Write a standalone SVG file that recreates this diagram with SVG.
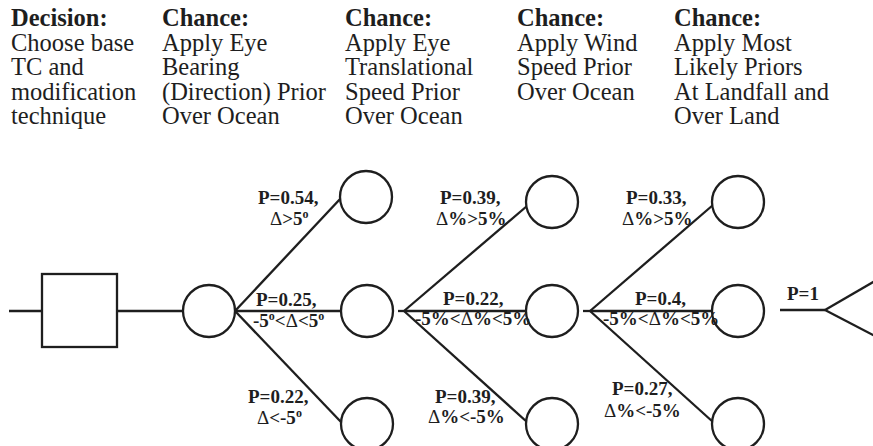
<svg xmlns="http://www.w3.org/2000/svg" width="873" height="446" viewBox="0 0 873 446">
<style>
.hd{font-family:"Liberation Serif","Times New Roman",serif;font-size:24.5px;fill:#1e1e1e}
.hb{font-weight:bold}
.lb{font-family:"Liberation Serif","Times New Roman",serif;font-size:19px;font-weight:bold;fill:#1e1e1e}
.dl{font-weight:normal}
.sup{font-size:12px}
.ln{stroke:#1e1e1e;stroke-width:2.3;fill:none}
.nd{stroke:#1e1e1e;stroke-width:2.3;fill:#fff}
</style>
<rect width="873" height="446" fill="#fff"/>
<g id="headers" class="hd">
<text x="11" y="26"><tspan class="hb">Decision:</tspan><tspan x="11" dy="24.6">Choose base</tspan><tspan x="11" dy="24.6">TC and</tspan><tspan x="11" dy="24.6">modification</tspan><tspan x="11" dy="24.6">technique</tspan></text>
<text x="162" y="26"><tspan class="hb">Chance:</tspan><tspan x="162" dy="24.6">Apply Eye</tspan><tspan x="162" dy="24.6">Bearing</tspan><tspan x="162" dy="24.6">(Direction) Prior</tspan><tspan x="162" dy="24.6">Over Ocean</tspan></text>
<text x="345" y="26"><tspan class="hb">Chance:</tspan><tspan x="345" dy="24.6">Apply Eye</tspan><tspan x="345" dy="24.6">Translational</tspan><tspan x="345" dy="24.6">Speed Prior</tspan><tspan x="345" dy="24.6">Over Ocean</tspan></text>
<text x="517" y="26"><tspan class="hb">Chance:</tspan><tspan x="517" dy="24.6">Apply Wind</tspan><tspan x="517" dy="24.6">Speed Prior</tspan><tspan x="517" dy="24.6">Over Ocean</tspan></text>
<text x="674" y="26"><tspan class="hb">Chance:</tspan><tspan x="674" dy="24.6">Apply Most</tspan><tspan x="674" dy="24.6">Likely Priors</tspan><tspan x="674" dy="24.6">At Landfall and</tspan><tspan x="674" dy="24.6">Over Land</tspan></text>
</g>
<g id="connectors" class="ln">
<line x1="9" y1="311" x2="42" y2="311"/>
<line x1="117" y1="311" x2="183" y2="311"/>
<line x1="235" y1="311" x2="341" y2="198"/>
<line x1="235" y1="311" x2="341" y2="311"/>
<line x1="235" y1="311" x2="341" y2="422"/>
<line x1="398" y1="311" x2="404" y2="311"/>
<line x1="404" y1="311" x2="527" y2="206"/>
<line x1="404" y1="311" x2="526" y2="311"/>
<line x1="404" y1="311" x2="527" y2="422"/>
<line x1="583" y1="311" x2="590" y2="311"/>
<line x1="590" y1="311" x2="713" y2="205"/>
<line x1="590" y1="311" x2="712" y2="311"/>
<line x1="590" y1="311" x2="713" y2="422"/>
<line x1="780" y1="310" x2="825" y2="310"/>
<line x1="825" y1="310" x2="875" y2="281"/>
<line x1="825" y1="310" x2="875" y2="336"/>
</g>
<g id="decision"><rect class="nd" x="42" y="274" width="75" height="73"/></g>
<g id="chance1"><circle class="nd" cx="209" cy="311" r="26"/></g>
<g id="c2a"><circle class="nd" cx="366" cy="197" r="26"/></g>
<g id="c2b"><circle class="nd" cx="367" cy="311" r="26"/></g>
<g id="c2c"><circle class="nd" cx="367" cy="424" r="26"/></g>
<g id="c3a"><circle class="nd" cx="552" cy="202" r="26"/></g>
<g id="c3b"><circle class="nd" cx="552" cy="311" r="26"/></g>
<g id="c3c"><circle class="nd" cx="552" cy="424" r="26"/></g>
<g id="c4a"><circle class="nd" cx="738" cy="202" r="26"/></g>
<g id="c4b"><circle class="nd" cx="738" cy="311" r="26"/></g>
<g id="c4c"><circle class="nd" cx="738" cy="424" r="26"/></g>
<g id="labels" class="lb">
<text x="258" y="204">P=0.54,</text>
<text x="270" y="225"><tspan class="dl">Δ</tspan>&gt;5<tspan class="sup" dy="-7">o</tspan></text>
<text x="256" y="306">P=0.25,</text>
<text x="253" y="327">-5<tspan class="sup" dy="-7">o</tspan><tspan dy="7">&lt;</tspan><tspan class="dl">Δ</tspan>&lt;5<tspan class="sup" dy="-7">o</tspan></text>
<text x="248" y="403">P=0.22,</text>
<text x="257" y="424"><tspan class="dl">Δ</tspan>&lt;-5<tspan class="sup" dy="-7">o</tspan></text>
<text x="440" y="204">P=0.39,</text>
<text x="436" y="225"><tspan class="dl">Δ</tspan>%&gt;5%</text>
<text x="443" y="305">P=0.22,</text>
<text x="415" y="325">-5%&lt;<tspan class="dl">Δ</tspan>%&lt;5%</text>
<text x="435" y="403">P=0.39,</text>
<text x="428" y="423"><tspan class="dl">Δ</tspan>%&lt;-5%</text>
<text x="626" y="204">P=0.33,</text>
<text x="622" y="225"><tspan class="dl">Δ</tspan>%&gt;5%</text>
<text x="635" y="305">P=0.4,</text>
<text x="603" y="325">-5%&lt;<tspan class="dl">Δ</tspan>%&lt;5%</text>
<text x="612" y="395">P=0.27,</text>
<text x="604" y="417"><tspan class="dl">Δ</tspan>%&lt;-5%</text>
<text x="787" y="300">P=1</text>
</g>
</svg>
